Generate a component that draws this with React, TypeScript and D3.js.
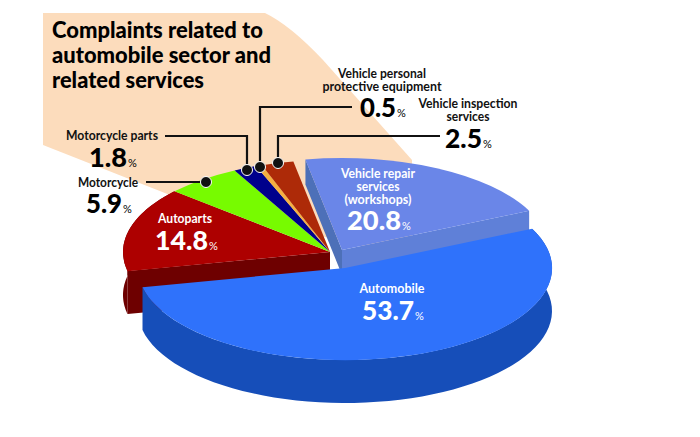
import * as d3 from 'd3';

const categories = ['Automobile', 'Autoparts', 'Motorcycle', 'Motorcycle parts', 'Vehicle personal protective equipment', 'Vehicle inspection services', 'Vehicle repair services (workshops)'];
const shares = [53.7, 14.8, 5.9, 1.8, 0.5, 2.5, 20.8];
const topColors = ['#2f72fb', '#ad0000', '#77fb00', '#00008c', '#f5b041', '#ad2a08', '#6a86e8'];
const sideColors = ['#164eb9', '#6e0000', '#4c9f00', '#00005a', '#b07a20', '#6e1a05', '#5f80d8'];
const titleLines = ['Complaints related to', 'automobile sector and', 'related services'];

const width = 700;
const height = 437;
const rx = 207;
const ry = 92;
const font = 'Lato, "Noto Sans", sans-serif';

// the picture is a tilted pie: blue sits low, the repair slice is pulled out
const centers: [number, number][] = shares.map((_, i) => {
  if (i === 0) return [345, 268];
  if (i === 6) return [342, 250];
  return [330, 252];
});
const depths = [43, 43, 43, 43, 43, 43, 21];

const pie = d3
  .pie<number>()
  .sort(null)
  .startAngle((64.7 * Math.PI) / 180)
  .endAngle((64.7 * Math.PI) / 180 + 2 * Math.PI);
const slices = pie(shares);

const unitArc = d3.arc<d3.PieArcDatum<number>>().innerRadius(0).outerRadius(1);
const project = (a: number, c: [number, number]): [number, number] => [
  c[0] + rx * Math.sin(a),
  c[1] - ry * Math.cos(a)
];
const line = d3.line();

// outer wall and the two cut faces for a slice
const wall = (s: d3.PieArcDatum<number>, i: number) => {
  const c = centers[i];
  const n = 60;
  const pts = d3.range(n + 1).map((k) => project(s.startAngle + ((s.endAngle - s.startAngle) * k) / n, c));
  const low = pts.map(([x, y]) => [x, y + depths[i]] as [number, number]).reverse();
  return line([...pts, ...low]) + 'Z';
};
const cutFace = (a: number, i: number, d = depths[i]) => {
  const c = centers[i];
  const p = project(a, c);
  return line([c, p, [p[0], p[1] + d], [c[0], c[1] + d]]) + 'Z';
};

const Pct = ({ x, y, w, value, fill, size = 26 }: { x: number; y: number; w: number; value: number; fill: string; size?: number }) => (
  <text x={x} y={y} fill={fill} fontFamily={font}>
    <tspan fontSize={size} fontWeight={900} textLength={w} lengthAdjust="spacingAndGlyphs">
      {value.toFixed(1)}
    </tspan>
    <tspan x={x + w + 1} fontSize={11}>
      %
    </tspan>
  </text>
);

const Name = ({ x, y, widths, lines, fill = '#111' }: { x: number; y: number; widths: number[]; lines: string[]; fill?: string }) => (
  <text y={y} fontFamily={font} fontSize={12.5} fontWeight={700} fill={fill} textAnchor="middle">
    {lines.map((t, i) => (
      <tspan key={t} x={x} dy={i === 0 ? 0 : 12.8} textLength={widths[i]} lengthAdjust="spacingAndGlyphs">
        {t}
      </tspan>
    ))}
  </text>
);

const Leader = ({ points }: { points: [number, number][] }) => {
  const dot = points[points.length - 1];
  return (
    <g>
      <path d={line(points) as string} fill="none" stroke="#111" strokeWidth={2.2} />
      <circle cx={dot[0]} cy={dot[1]} r={5.5} fill="#111" stroke="#fff" strokeWidth={1} />
    </g>
  );
};

export default function App() {
  const drawOrder = [1, 2, 3, 4, 5, 6, 0];
  return (
    <svg
      width={width}
      height={height}
      viewBox={`0 0 ${width} ${height}`}
      style={{ position: 'absolute', left: 0, top: 0, background: '#fff' }}
    >
      <path d="M43,13 L265,13 Q290,25 323,60 L412,160 L412,260 L175,197 L43,145 Z" fill="#fcdcbc" />

      {drawOrder.map((i) => {
        const s = slices[i];
        const c = centers[i];
        return (
          <g key={categories[i]}>
            {i === 1 && <path d={cutFace(s.startAngle, i)} fill={sideColors[i]} />}
            {i === 6 && <path d={cutFace(s.startAngle, i, 25)} fill="#4d70b8" />}
            {i === 6 && <path d={cutFace(s.endAngle, i)} fill={sideColors[i]} />}
            {(i === 0 || i === 1) && <path d={wall(s, i)} fill={sideColors[i]} />}
            <path
              d={unitArc(s) as string}
              transform={`translate(${c[0]},${c[1]}) scale(${rx},${ry})`}
              fill={topColors[i]}
            />
          </g>
        );
      })}

      <text fontFamily={font} fontSize={23} fontWeight={900} fill="#000" y={38}>
        {titleLines.map((t, i) => (
          <tspan key={t} x={52} dy={i === 0 ? 0 : 25} textLength={[211, 219, 152][i]} lengthAdjust="spacingAndGlyphs">
            {t}
          </tspan>
        ))}
      </text>

      <Leader points={[[165, 136], [247, 136], [247, 170]]} />
      <Leader points={[[146, 182], [206, 182]]} />
      <Leader points={[[352, 107], [260, 107], [260, 167]]} />
      <Leader points={[[440, 136], [278, 136], [278, 163]]} />

      <Name x={382} y={78} widths={[88, 119]} lines={['Vehicle personal', 'protective equipment']} />
      <Pct x={360} y={117} w={36} value={shares[4]} fill="#000" />

      <Name x={468} y={108} widths={[99, 43]} lines={['Vehicle inspection', 'services']} />
      <Pct x={445} y={148} w={37} value={shares[5]} fill="#000" />

      <Name x={112} y={140} widths={[92]} lines={['Motorcycle parts']} />
      <Pct x={89} y={167} w={38} value={shares[3]} fill="#000" />

      <Name x={108} y={187} widths={[60]} lines={['Motorcycle']} />
      <Pct x={86} y={213} w={36} value={shares[2]} fill="#000" />

      <Name x={185} y={223} widths={[54]} lines={['Autoparts']} fill="#fff" />
      <Pct x={155} y={250} w={53} value={shares[1]} fill="#fff" />

      <Name x={378} y={178} widths={[74, 43, 67]} lines={['Vehicle repair', 'services', '(workshops)']} fill="#fff" />
      <Pct x={347} y={230} w={54} value={shares[6]} fill="#fff" />

      <Name x={392} y={293} widths={[65]} lines={['Automobile']} fill="#fff" />
      <Pct x={362} y={320} w={52} value={shares[0]} fill="#fff" />
    </svg>
  );
}
